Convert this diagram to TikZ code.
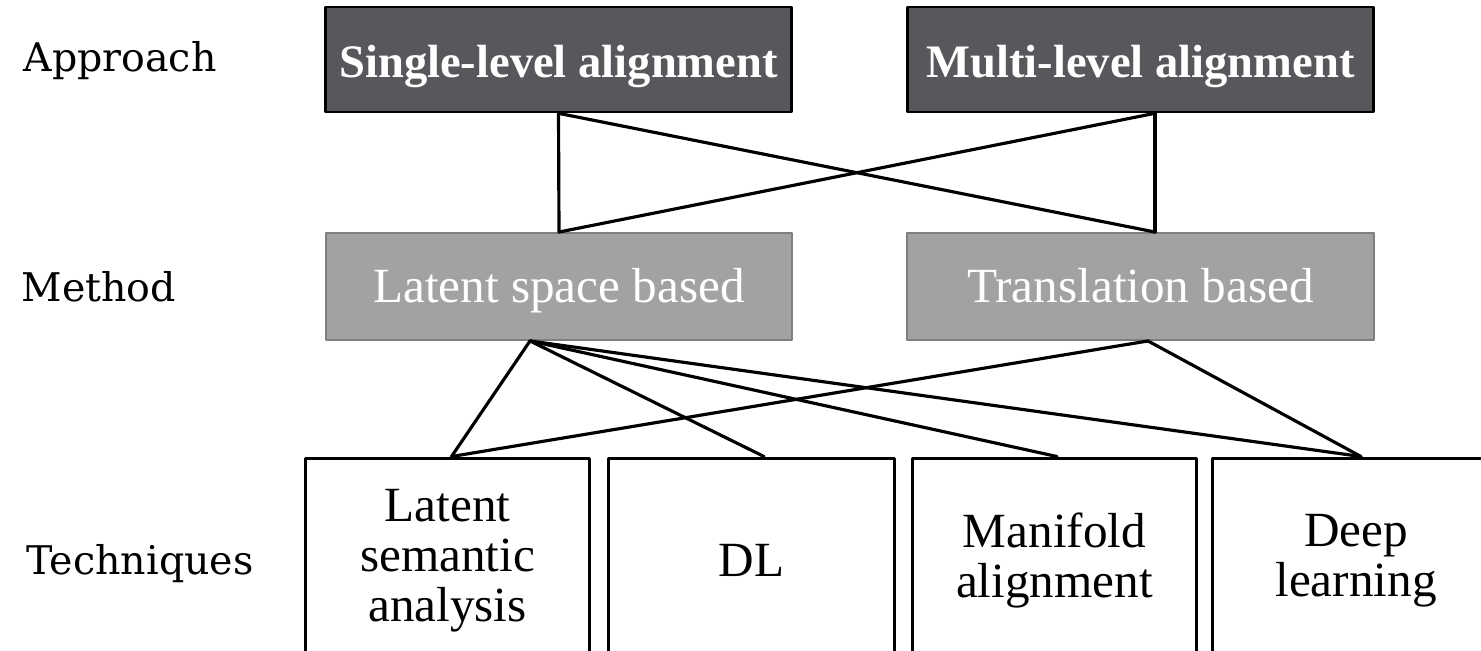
\documentclass[tikz,border=0pt]{standalone}
\usepackage{fontspec}
\setmainfont{Liberation Serif}
\newfontfamily\levelfont{DejaVu Serif}
\usetikzlibrary{calc}
\definecolor{darkbox}{HTML}{58585C}
\definecolor{lightbox}{HTML}{A2A2A4}
\definecolor{lightedge}{HTML}{7F7F7F}

\begin{document}
\begin{tikzpicture}[x=0.02cm, y=-0.02cm, line width=1.8pt, line join=round, line cap=round,
	approach/.style={draw=black, fill=darkbox, text=white, line width=1.5pt, minimum width=9.32cm, minimum height=2.1cm, text height=25pt, text depth=5pt, font=\fontsize{26.5}{30}\selectfont\bfseries},
	method/.style={draw=lightedge, fill=lightbox, text=white, line width=1.1pt, minimum width=9.34cm, minimum height=2.14cm, text height=23pt, text depth=5pt, font=\fontsize{28}{32}\selectfont},
	tech/.style={draw=black, line width=1.7pt, minimum width=5.7cm, minimum height=4.1cm, align=center, font=\fontsize{28}{28.5}\selectfont},
	level/.style={anchor=base west, inner sep=0pt, font=\levelfont\fontsize{22.5}{26}\selectfont}]
\useasboundingbox (0,0) rectangle (1481,651);
\clip (0,0) rectangle (1481,651);

\node[level] (lapp) at (22,72) {Approach};
\node[level] (lmet) at (20,302) {Method};
\node[level] (ltec) at (25,575) {Techniques};

\node[approach] (single) at (558.5,59.5) {Single-level alignment};
\node[approach] (multi) at (1140.5,59.5) {Multi-level alignment};
\node[method] (latent) at (559,286.5) {Latent space based};
\node[method] (trans) at (1140.5,286.5) {Translation based};
\node[tech] (lsa) at (447.5,560.5) {Latent\\semantic\\analysis};
\node[tech, minimum width=5.74cm] (dl) at (751.5,560.5) {DL};
\node[tech] (mani) at (1054.5,560.5) {Manifold\\alignment};
\node[tech, minimum width=5.76cm] (deep) at (1356,560.5) {Deep\\learning};

\coordinate (m1) at ($(multi.south)+(14.5,0)$);
\coordinate (t1) at ($(trans.north)+(14.5,0)$);
\coordinate (l2) at ($(latent.south)+(-29,0)$);
\coordinate (t2) at ($(trans.south)+(7.5,0)$);

\draw (single.south)--(latent.north);
\draw (single.south)--(t1);
\draw (m1)--(t1);
\draw (m1)--(latent.north);
\foreach \n/\dx in {lsa/4, dl/12.5, mani/2.5, deep/5}{
	\draw (l2)--($(\n.north)+(\dx,0)$);
}
\draw (t2)--($(lsa.north)+(4,0)$);
\draw (t2)--($(deep.north)+(5,0)$);

\end{tikzpicture}
\end{document}
